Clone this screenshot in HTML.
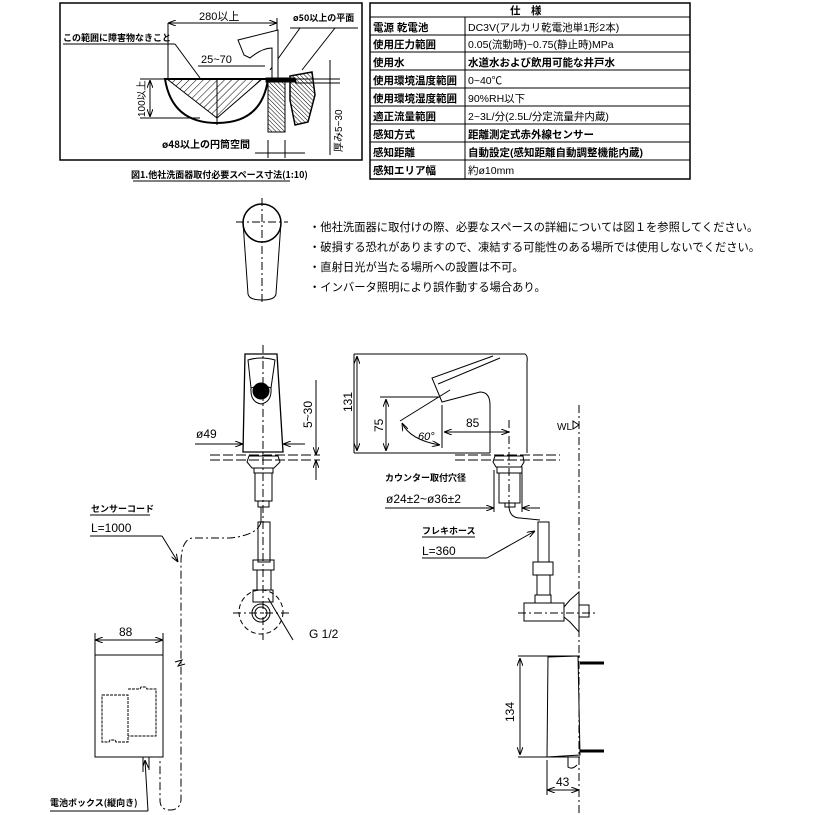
<!DOCTYPE html>
<html><head><meta charset="utf-8"><style>
html,body{margin:0;padding:0;background:#fff}
svg{display:block}
text{font-family:"Liberation Sans","Noto Sans CJK JP",sans-serif;fill:#000}
.j{font-family:"Noto Sans CJK JP","Liberation Sans",sans-serif;font-weight:bold}
</style></head><body>
<svg width="815" height="815" viewBox="0 0 815 815" xmlns="http://www.w3.org/2000/svg">
<defs>
<pattern id="h" width="5" height="5" patternUnits="userSpaceOnUse" patternTransform="rotate(45)"><line x1="0" y1="0" x2="0" y2="5" stroke="#000" stroke-width="1"/></pattern>
<pattern id="h2" width="3" height="3" patternUnits="userSpaceOnUse" patternTransform="rotate(-45)"><line x1="0" y1="0" x2="0" y2="3" stroke="#000" stroke-width="1"/></pattern>
<marker id="a" markerWidth="8" markerHeight="6" refX="8" refY="3" orient="auto-start-reverse"><path d="M0,0 L8,3 L0,6" fill="none" stroke="#000" stroke-width="1"/></marker>
</defs>
<g fill="none" stroke="#000" stroke-width="1">
<rect x="60" y="3" width="302" height="157" stroke-width="1.5"/>
<line x1="168" y1="23" x2="277" y2="23" marker-start="url(#a)" marker-end="url(#a)"/>
<line x1="168" y1="23" x2="168" y2="78"/>
<line x1="277" y1="18" x2="277" y2="78"/>
<line x1="290" y1="28" x2="358" y2="28"/>
<line x1="300" y1="28" x2="270" y2="70"/><line x1="335" y1="28" x2="302" y2="70"/>
<line x1="63" y1="44" x2="175" y2="44"/><line x1="175" y1="44" x2="200" y2="78"/>
<line x1="198" y1="66" x2="265" y2="66"/>
<path d="M165,79 L268,79 Q262,123 217,123 Q172,123 165,79 Z" stroke-width="2"/>
<path d="M167,79 L262,79 L217,118 Z" fill="url(#h)"/>
<line x1="217" y1="79" x2="217" y2="125"/>
<line x1="140" y1="79" x2="165" y2="79"/><line x1="140" y1="118" x2="200" y2="118"/>
<line x1="150" y1="80" x2="150" y2="117" marker-start="url(#a)" marker-end="url(#a)"/>
<rect x="268" y="82" width="17" height="50" fill="url(#h2)"/>
<path d="M266,78 L295,78 L296,82 L266,82 Z" fill="#000"/>
<path d="M290,76 L312,72 L315,95 L308,122 L295,125 L290,100 Z" fill="url(#h2)" stroke-width="1.5"/>
<path d="M238,40 L278,30 L278,78 L272,78 L272,48 Q262,48 250,58 L244,55 Z" fill="#fff"/>
<line x1="268" y1="140" x2="268" y2="158"/><line x1="285" y1="140" x2="285" y2="158"/>
<line x1="255" y1="153" x2="305" y2="153"/>
<line x1="330" y1="60" x2="330" y2="155"/><line x1="295" y1="79" x2="340" y2="79"/><line x1="295" y1="83" x2="340" y2="83"/>
<line x1="133" y1="181" x2="290" y2="181"/>
<rect x="370" y="3" width="320" height="176" stroke-width="1.5"/>
<line x1="465" y1="17" x2="465" y2="179"/>
<g stroke-width="1">
<line x1="370" y1="17" x2="690" y2="17"/><line x1="370" y1="35" x2="690" y2="35"/><line x1="370" y1="52" x2="690" y2="52"/>
<line x1="370" y1="70" x2="690" y2="70"/><line x1="370" y1="88" x2="690" y2="88"/><line x1="370" y1="106" x2="690" y2="106"/>
<line x1="370" y1="124" x2="690" y2="124"/><line x1="370" y1="142" x2="690" y2="142"/><line x1="370" y1="160" x2="690" y2="160"/>
</g>
<circle cx="262" cy="223" r="19" stroke-width="1.5"/>
<path d="M243,222 L248,294 Q249,300 262,300 Q275,300 276,294 L281,222"/>
<line x1="236" y1="222" x2="288" y2="222" stroke-dasharray="8 3 2 3"/>
<line x1="262" y1="198" x2="262" y2="305" stroke-dasharray="8 3 2 3"/>
<path d="M245,354 L277,354 L283,452 L243,452 Z" stroke-width="1.3"/>
<path d="M248,360 Q261,356 275,360 L271,388 Q261,384 251,388 Z"/>
<path d="M251,388 Q250,402 261,404 Q272,402 271,388"/>
<circle cx="261" cy="391" r="8" fill="#000"/>
<line x1="263" y1="345" x2="263" y2="640" stroke-dasharray="8 3 2 3"/>
<line x1="195" y1="444" x2="243" y2="444" marker-end="url(#a)"/><line x1="283" y1="444" x2="305" y2="444" marker-start="url(#a)"/>
<line x1="210" y1="455" x2="320" y2="455" stroke-dasharray="10 3"/><line x1="210" y1="460" x2="320" y2="460" stroke-dasharray="10 3"/>
<line x1="316" y1="380" x2="316" y2="455" marker-end="url(#a)"/><line x1="316" y1="460" x2="316" y2="480" marker-start="url(#a)"/>
<path d="M249,456 L278,456 L280,462 L274,468 L252,468 L247,462 Z"/>
<rect x="254" y="468" width="19" height="5"/>
<rect x="255" y="473" width="17" height="28"/>
<rect x="258" y="501" width="11" height="6"/>
<line x1="261" y1="507" x2="261" y2="522"/>
<rect x="258" y="522" width="12" height="40"/>
<rect x="253" y="560" width="21" height="10"/>
<rect x="257" y="570" width="14" height="20"/>
<rect x="253" y="590" width="20" height="12"/>
<circle cx="261" cy="612" r="22" stroke-dasharray="5 3"/>
<circle cx="261" cy="613" r="9"/><circle cx="261" cy="613" r="6"/>
<line x1="233" y1="613" x2="290" y2="613" stroke-dasharray="8 3 2 3"/>
<line x1="268" y1="598" x2="293" y2="640"/>
<path d="M354,354 L525,354 Q528,356 527,362 L527,453"/>
<path d="M493,356 L432,378 L442,402 L480,392 Q490,392 490,405 L490,453"/>
<path d="M438,384 L500,358"/>
<line x1="354" y1="354" x2="354" y2="453"/>
<line x1="357" y1="356" x2="357" y2="451" marker-start="url(#a)" marker-end="url(#a)"/>
<line x1="380" y1="397" x2="440" y2="397"/>
<line x1="386" y1="399" x2="386" y2="451" marker-start="url(#a)" marker-end="url(#a)"/>
<line x1="354" y1="453" x2="490" y2="453"/>
<line x1="442" y1="405" x2="442" y2="448"/>
<line x1="400" y1="421" x2="450" y2="390"/>
<path d="M402,423 Q410,440 440,445" marker-start="url(#a)" marker-end="url(#a)"/>
<line x1="444" y1="432" x2="509" y2="432" marker-start="url(#a)" marker-end="url(#a)"/>
<line x1="509" y1="420" x2="509" y2="510" stroke-dasharray="8 3 2 3"/>
<line x1="455" y1="455" x2="560" y2="455" stroke-dasharray="10 3"/><line x1="455" y1="460" x2="560" y2="460" stroke-dasharray="10 3"/>
<line x1="579" y1="405" x2="579" y2="815" stroke-dasharray="8 3 2 3"/>
<path d="M573,421 L579,425 L573,429 Z"/>
<path d="M495,456 L523,456 L524,462 L521,467 L496,467 L493,462 Z"/>
<rect x="497" y="467" width="25" height="6"/>
<rect x="499" y="473" width="21" height="30"/>
<rect x="505" y="503" width="10" height="4"/>
<line x1="385" y1="508" x2="494" y2="508" marker-end="url(#a)"/><line x1="522" y1="508" x2="540" y2="508" marker-start="url(#a)"/>
<line x1="494" y1="470" x2="494" y2="512"/><line x1="522" y1="470" x2="522" y2="512"/>
<path d="M509,507 Q510,518 520,518 L540,520"/>
<line x1="422" y1="537" x2="475" y2="537"/><line x1="422" y1="558" x2="487" y2="558"/>
<line x1="487" y1="558" x2="535" y2="531" marker-end="url(#a)"/>
<rect x="538" y="522" width="11" height="40"/>
<rect x="533" y="562" width="20" height="13"/>
<rect x="537" y="575" width="13" height="20"/>
<rect x="535" y="595" width="16" height="8"/>
<rect x="524" y="603" width="40" height="18"/>
<path d="M564,607 L570,600 L579,592 L579,632 L570,622 L564,617"/>
<rect x="579" y="605" width="10" height="12"/>
<line x1="518" y1="613" x2="595" y2="613" stroke-dasharray="8 3 2 3"/>
<path d="M548,657 L578,656 L580,755 L547,757 Z"/>
<line x1="518" y1="656" x2="580" y2="656"/><line x1="518" y1="757" x2="580" y2="757"/>
<line x1="520" y1="658" x2="520" y2="755" marker-start="url(#a)" marker-end="url(#a)"/>
<line x1="580" y1="663" x2="604" y2="663" stroke-width="3"/><line x1="580" y1="751" x2="604" y2="751" stroke-width="3"/>
<path d="M568,757 L568,767 Q572,770 577,765"/>
<line x1="547" y1="760" x2="547" y2="795"/>
<line x1="547" y1="790" x2="579" y2="790" marker-start="url(#a)" marker-end="url(#a)"/>
<path d="M261,522 Q258,535 230,538 L192,538 Q182,540 181,560 L181,800 Q180,810 170,810 Q160,810 160,800 L160,758" stroke-dasharray="8 3 2 3"/>
<line x1="90" y1="515" x2="150" y2="515"/><line x1="90" y1="536" x2="162" y2="536"/>
<line x1="162" y1="536" x2="178" y2="562" marker-end="url(#a)"/>
<path d="M175,662 L182,660 L178,666 L185,664"/>
<rect x="95" y="655" width="68" height="102"/>
<path d="M102,695 L128,695 L128,742 L116,742 L115,740 L110,740 L109,742 L102,742 Z" stroke-dasharray="3 1"/>
<path d="M128,689 L140,689 L141,687 L146,687 L147,689 L156,689 L156,736 L128,736" stroke-dasharray="3 1"/>
<line x1="95" y1="633" x2="95" y2="655"/><line x1="163" y1="633" x2="163" y2="655"/>
<line x1="95" y1="640" x2="163" y2="640" marker-start="url(#a)" marker-end="url(#a)"/>
<path d="M143,757 L143,772 M149,757 L149,770"/>
<line x1="50" y1="811" x2="148" y2="811"/><line x1="148" y1="811" x2="145" y2="760" marker-end="url(#a)"/>
</g>
<g font-size="11">
<text x="199" y="20">280以上</text>
<text x="293" y="21" font-size="9" class="j">ø50以上の平面</text>
<text x="63" y="41" font-size="9" class="j">この範囲に障害物なきこと</text>
<text x="201" y="63">25~70</text>
<text x="162" y="148" font-size="10" class="j">ø48以上の円筒空間</text>
<text transform="translate(145,117) rotate(-90)" font-size="10">100以上</text>
<text transform="translate(342,152) rotate(-90)" font-size="10">厚み5~30</text>
<text x="131" y="178" font-size="9" class="j">図1.他社洗面器取付必要スペース寸法(1:10)</text>
</g>
<g font-size="10.5" class="j">
<text x="510" y="14">仕　様</text>
<text x="373" y="31">電源 乾電池</text><text x="468" y="31" font-weight="normal">DC3V(アルカリ乾電池単1形2本)</text>
<text x="373" y="48">使用圧力範囲</text><text x="468" y="48" font-weight="normal">0.05(流動時)~0.75(静止時)MPa</text>
<text x="373" y="66">使用水</text><text x="468" y="66">水道水および飲用可能な井戸水</text>
<text x="373" y="84">使用環境温度範囲</text><text x="468" y="84" font-weight="normal">0~40℃</text>
<text x="373" y="102">使用環境湿度範囲</text><text x="468" y="102" font-weight="normal">90%RH以下</text>
<text x="373" y="120">適正流量範囲</text><text x="468" y="120" font-weight="normal">2~3L/分(2.5L/分定流量弁内蔵)</text>
<text x="373" y="138">感知方式</text><text x="468" y="138">距離測定式赤外線センサー</text>
<text x="373" y="156">感知距離</text><text x="468" y="156">自動設定(感知距離自動調整機能内蔵)</text>
<text x="373" y="174">感知エリア幅</text><text x="468" y="174" font-weight="normal">約ø10mm</text>
</g>
<g font-size="11.3">
<text x="309" y="231">・他社洗面器に取付けの際、必要なスペースの詳細については図１を参照してください。</text>
<text x="309" y="251">・破損する恐れがありますので、凍結する可能性のある場所では使用しないでください。</text>
<text x="309" y="271">・直射日光が当たる場所への設置は不可。</text>
<text x="309" y="291">・インバータ照明により誤作動する場合あり。</text>
</g>
<g font-size="12">
<text x="196" y="438">ø49</text>
<text transform="translate(312,428) rotate(-90)">5~30</text>
<text transform="translate(352,412) rotate(-90)">131</text>
<text transform="translate(383,432) rotate(-90)">75</text>
<text x="466" y="427">85</text>
<text x="418" y="440" font-style="italic" font-size="11">60°</text>
<text x="557" y="430" font-size="10">WL</text>
<text x="385" y="481" font-size="9" class="j">カウンター取付穴径</text>
<text x="386" y="503">ø24±2~ø36±2</text>
<text x="422" y="534" font-size="9" class="j">フレキホース</text>
<text x="422" y="555">L=360</text>
<text x="309" y="638">G 1/2</text>
<text x="91" y="512" font-size="9" class="j">センサーコード</text>
<text x="91" y="532">L=1000</text>
<text x="119" y="636">88</text>
<text transform="translate(514,722) rotate(-90)">134</text>
<text x="556" y="786">43</text>
<text x="50" y="806" font-size="9" class="j">電池ボックス(縦向き)</text>
</g>
</svg>
</body></html>
